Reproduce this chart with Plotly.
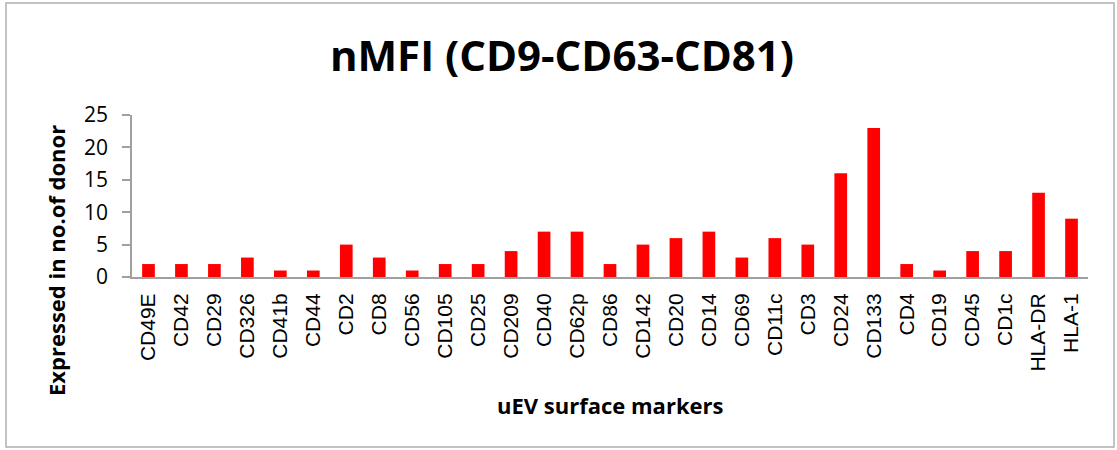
import plotly.graph_objects as go

markers = ["CD49E", "CD42", "CD29", "CD326", "CD41b", "CD44", "CD2", "CD8", "CD56",
           "CD105", "CD25", "CD209", "CD40", "CD62p", "CD86", "CD142", "CD20", "CD14",
           "CD69", "CD11c", "CD3", "CD24", "CD133", "CD4", "CD19", "CD45", "CD1c",
           "HLA-DR", "HLA-1"]
donors = [2, 2, 2, 3, 1, 1, 5, 3, 1, 2, 2, 4, 7, 7, 2, 5, 6, 7, 3, 6, 5, 16, 23, 2, 1, 4, 4, 13, 9]
y_ticks = [0, 5, 10, 15, 20, 25]

W, H = 1117, 450
ML, MR, MT, MB = 132, 29, 115, 173
pw, ph = W - ML - MR, H - MT - MB


def px_x(x):
    """Pixel column -> paper x."""
    return (x - ML) / pw


def px_y(y):
    """Pixel row (from top) -> paper y."""
    return (H - MB - y) / ph


fig = go.Figure(go.Bar(x=markers, y=donors, marker=dict(color="#ff0000", line=dict(width=0)),
                       width=0.385))

bold = "Open Sans, sans-serif"
fig.update_layout(
    width=W, height=H,
    margin=dict(l=ML, r=MR, t=MT, b=MB),
    paper_bgcolor="white", plot_bgcolor="white",
    showlegend=False,
    title=dict(text="<b>nMFI (CD9-CD63-CD81)</b>", x=562 / W, xanchor="center",
               y=1 - 56 / H, yanchor="middle",
               font=dict(family=bold, size=42, color="black")),
    xaxis=dict(
        tickangle=-90, showgrid=False, showline=True, linecolor="#a0a0a0", linewidth=2,
        ticks="", ticklabelstandoff=6,
        tickfont=dict(family="Liberation Sans, Arial, sans-serif", size=21, color="black"),
        range=[-0.5, len(markers) - 0.5],
    ),
    yaxis=dict(
        range=[0, 25], tickvals=y_ticks, showgrid=False, zeroline=False,
        showline=True, linecolor="#a0a0a0", linewidth=1.5,
        ticks="outside", ticklen=8, tickcolor="#a0a0a0", tickwidth=1.5,
        ticklabelstandoff=10,
        tickfont=dict(family=bold, size=21, color="black"),
    ),
    annotations=[
        dict(text="<b>uEV surface markers</b>", xref="paper", yref="paper",
             x=0.5, y=px_y(405), xanchor="center", yanchor="middle", showarrow=False,
             font=dict(family=bold, size=22, color="black")),
        dict(text="<b>Expressed in no.of donor</b>", xref="paper", yref="paper",
             x=px_x(56), y=px_y(261), xanchor="center", yanchor="middle", showarrow=False,
             textangle=-90, font=dict(family=bold, size=22, color="black")),
    ],
    shapes=[dict(type="rect", xref="paper", yref="paper",
                 x0=px_x(6), x1=px_x(1114), y0=px_y(447), y1=px_y(3),
                 line=dict(color="#b0b0b0", width=1.5), fillcolor="rgba(0,0,0,0)")],
)

fig.write_html("out.html")
